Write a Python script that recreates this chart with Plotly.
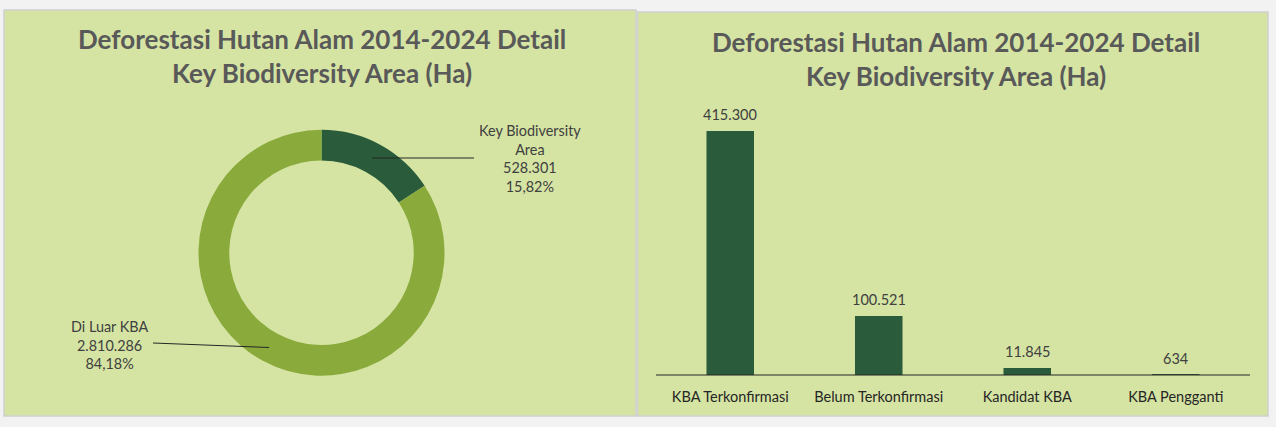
import plotly.graph_objects as go

# ---- data ----
pie_labels = ["Key Biodiversity Area", "Di Luar KBA"]
pie_label_lines = ["Key Biodiversity<br>Area", "Di Luar KBA"]
pie_values = [528301, 2810286]

bar_categories = ["KBA Terkonfirmasi", "Belum Terkonfirmasi", "Kandidat KBA", "KBA Pengganti"]
bar_values = [415300, 100521, 11845, 634]

title_text = "Deforestasi Hutan Alam 2014-2024 Detail<br>Key Biodiversity Area (Ha)"

# ---- styling ----
W, H = 1276, 427
PAGE = "#f2f2f2"
PANEL = "#d5e4a3"
BORDER = "#d0d0d0"
DARK = "#2a5b3b"
LIGHT = "#8aab3c"
TITLE_C = "#595959"
TEXT_C = "#404040"
FONT = "Lato"


def px(x):
    return x / W


def py(y):
    return 1 - y / H


def fmt_num(v):
    return f"{v:,}".replace(",", ".")


def fmt_pct(p):
    return f"{p:.2f}%".replace(".", ",")


fig = go.Figure()

# Donut
fig.add_trace(go.Pie(
    labels=pie_labels,
    values=pie_values,
    hole=0.75,
    sort=False,
    direction="clockwise",
    rotation=0,
    marker=dict(colors=[DARK, LIGHT], line=dict(width=0)),
    textinfo="none",
    hoverinfo="label+value+percent",
    showlegend=False,
    domain=dict(x=[px(198.5), px(444.5)], y=[py(376), py(129.5)]),
))

# Bars
fig.add_trace(go.Bar(
    x=bar_categories,
    y=bar_values,
    marker=dict(color=DARK, line=dict(width=0)),
    showlegend=False,
    xaxis="x", yaxis="y",
))

total = sum(pie_values)
pct = [v / total * 100 for v in pie_values]

shapes = [
    # panels
    dict(type="rect", xref="paper", yref="paper", x0=px(4), x1=px(636), y0=py(416), y1=py(10),
         fillcolor=PANEL, line=dict(color=BORDER, width=1.5), layer="below"),
    dict(type="rect", xref="paper", yref="paper", x0=px(637.5), x1=px(1268), y0=py(416), y1=py(12),
         fillcolor=PANEL, line=dict(color=BORDER, width=1.5), layer="below"),
    # leader lines
    dict(type="line", xref="paper", yref="paper", x0=px(372), y0=py(158), x1=px(474), y1=py(158),
         line=dict(color="#262626", width=1)),
    dict(type="line", xref="paper", yref="paper", x0=px(153), y0=py(343), x1=px(269), y1=py(347.5),
         line=dict(color="#262626", width=1)),
    # bar axis line
    dict(type="line", xref="paper", yref="paper", x0=px(656), x1=px(1250), y0=py(375), y1=py(375),
         line=dict(color="#262626", width=1.2)),
]

annotations = [
    dict(text=title_text, xref="paper", yref="paper", x=px(322), y=py(56), showarrow=False,
         xanchor="center", yanchor="middle",
         font=dict(family=FONT, size=26, color=TITLE_C, weight="bold")),
    dict(text=title_text, xref="paper", yref="paper", x=px(956), y=py(59), showarrow=False,
         xanchor="center", yanchor="middle",
         font=dict(family=FONT, size=26, color=TITLE_C, weight="bold")),
    dict(text=f"{pie_label_lines[0]}<br>{fmt_num(pie_values[0])}<br>{fmt_pct(pct[0])}",
         xref="paper", yref="paper", x=px(530), y=py(158.5), showarrow=False,
         xanchor="center", yanchor="middle",
         font=dict(family=FONT, size=14.4, color=TEXT_C)),
    dict(text=f"{pie_label_lines[1]}<br>{fmt_num(pie_values[1])}<br>{fmt_pct(pct[1])}",
         xref="paper", yref="paper", x=px(109), y=py(344.5), showarrow=False,
         xanchor="center", yanchor="middle",
         font=dict(family=FONT, size=14.4, color=TEXT_C)),
]
# bar value labels, placed on the data scale
for c, v in zip(bar_categories, bar_values):
    annotations.append(dict(
        text=fmt_num(v), xref="x", yref="y", x=c, y=v, showarrow=False,
        xanchor="center", yanchor="bottom", yshift=6,
        font=dict(family=FONT, size=14.5, color=TEXT_C)))

ymax = 415300 * (375 - 100) / (375 - 131)

fig.update_layout(
    width=W, height=H,
    margin=dict(l=0, r=0, t=0, b=0),
    paper_bgcolor=PAGE,
    plot_bgcolor="rgba(0,0,0,0)",
    bargap=0.68,
    xaxis=dict(domain=[px(656), px(1250)], showgrid=False, zeroline=False,
               showline=False, ticks="outside", ticklen=9, tickcolor="rgba(0,0,0,0)",
               tickfont=dict(family=FONT, size=14.5, color="#262626"), fixedrange=True),
    yaxis=dict(domain=[py(375), py(100)], range=[0, ymax], visible=False, fixedrange=True),
    shapes=shapes,
    annotations=annotations,
    font=dict(family=FONT),
)

fig.write_html("out.html", config={"displayModeBar": False},
               post_script="document.body.style.margin='0';document.body.style.overflow='hidden';")
